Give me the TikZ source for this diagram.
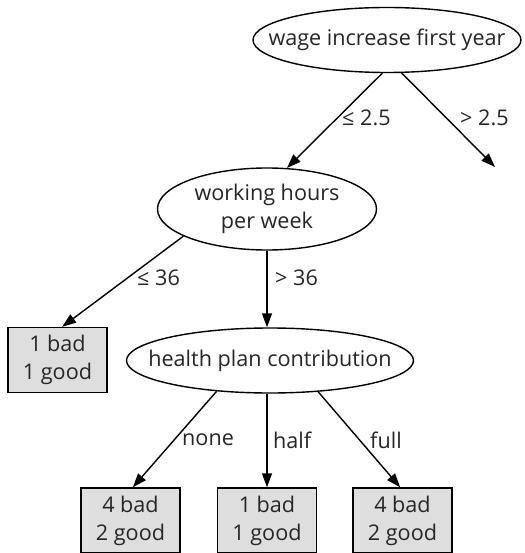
\documentclass[tikz,border=0pt]{standalone}
\usepackage{fontspec}
\setmainfont{Open Sans}
\usetikzlibrary{shapes.geometric,arrows.meta}
\newcommand{\zw}[1]{\makebox[0pt]{#1}}
\begin{document}
\begin{tikzpicture}[x=1pt,y=-1pt,
  every node/.style={font=\fontsize{21.6}{28}\selectfont, text=black!85},
  ell/.style={draw, ellipse, line width=1.4pt, inner sep=0pt, fill=white},
  leaf/.style={draw, rectangle, line width=1.4pt, fill=black!13, inner sep=0pt, minimum width=99pt, minimum height=65pt, align=center},
  lbl/.style={anchor=west, inner sep=0pt},
  arr/.style={line width=1.4pt, -{Triangle[length=14pt,width=10pt]}}]
\useasboundingbox (0,0) rectangle (524,553);
\node[ell, minimum width=268pt, minimum height=65pt] (e1) at (387,40) {\zw{wage increase first year}};
\node[ell, minimum width=219pt, minimum height=82pt] (e2) at (267,209) {\zw{\begin{tabular}{@{}c@{}}working hours\\per week\end{tabular}}};
\node[ell, minimum width=287pt, minimum height=65pt] (e3) at (270,360.5) {\zw{health plan contribution}};
\node[leaf] (b1) at (57.5,360) {1 bad\\1 good};
\node[leaf] (b2) at (130.5,520.5) {4 bad\\2 good};
\node[leaf] (b3) at (267,520.5) {1 bad\\1 good};
\node[leaf] (b4) at (402.5,520.5) {4 bad\\2 good};
\coordinate (r) at (495,167);
\draw[arr] (e1.262) -- (e2.64);
\draw[arr] (e1.294) -- (r);
\draw[arr] (e2.198) -- (b1.82);
\draw[arr] (e2.south) -- (e2.south |- e3.north);
\draw[arr] (e3.210) -- (b2.86);
\draw[arr] (b3.north |- e3.south) -- (b3.north);
\draw[arr] (e3.327) -- (b4.94);
\node[lbl] (l1) at (342,118) {≤ 2.5};
\node[lbl] (l2) at (460,118) {> 2.5};
\node[lbl] (l3) at (137,278) {≤ 36};
\node[lbl] (l4) at (275,278) {> 36};
\node[lbl] (l5) at (182,440) {none};
\node[lbl] (l6) at (273,440) {half};
\node[lbl] (l7) at (370,440) {full};
\end{tikzpicture}
\end{document}
